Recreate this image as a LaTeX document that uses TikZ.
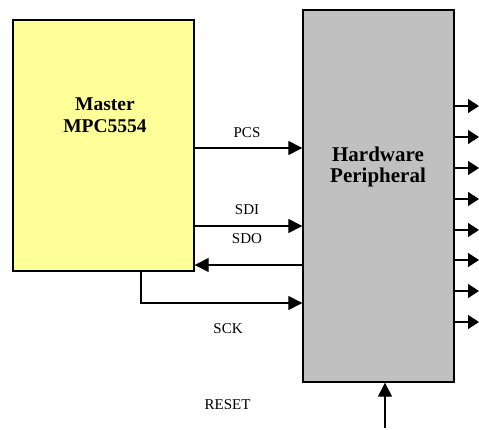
\documentclass[tikz,border=0pt]{standalone}
\usepackage{fontspec}
\setmainfont{Liberation Serif}
\usepackage{tikz}
\usetikzlibrary{
    positioning,
    arrows.meta,
    calc
}
\definecolor{MasterYellow}{RGB}{255,255,153}
\definecolor{PeriphGray}{RGB}{192,192,192}

\begin{document}
\begin{tikzpicture}[
                    x=1pt, y=-1pt,
                    every node/.style={inner sep=0pt},
                    blockbox/.style={draw=black, line width=1.4pt},
                    sig/.style={line width=1.3pt, -{Triangle[length=14pt,width=14pt]}},
                    outsig/.style={line width=1.3pt, -{Triangle[length=11pt,width=14pt]}},
                    siglabel/.style={font=\fontsize{15}{17}\selectfont},
                ]
                  \useasboundingbox (0,0) rectangle (479,430);

                  % ---- Blocks ----
                  \node[blockbox, fill=MasterYellow, minimum width=181pt, minimum height=251pt] (master) at (103.5,145.5) {};
                  \node[blockbox, fill=PeriphGray, minimum width=151pt, minimum height=372pt] (periph) at (378.5,196) {};
                  \node[font=\fontsize{19.5}{22}\selectfont\bfseries, align=center] (masterText) at (105,115) {Master\\MPC5554};
                  \node[font=\fontsize{21}{21}\selectfont\bfseries, align=center] (periphText) at (378,167) {Hardware\\Peripheral};

                  % ---- Serial lines ----
                  \draw[sig] (master.east |- 0,148) -- (periph.west |- 0,148);
                  \node[siglabel] (pcsLabel) at (247,133) {PCS};

                  \draw[sig] (master.east |- 0,226) -- (periph.west |- 0,226);
                  \node[siglabel] (sdiLabel) at (247,210) {SDI};

                  \draw[sig] (periph.west |- 0,265) -- (master.east |- 0,265);
                  \node[siglabel] (sdoLabel) at (247,239) {SDO};

                  % SCK leaves the bottom of the master
                  \coordinate (sckCorner) at (141,303);
                  \draw[sig] (master.south -| sckCorner) -- (sckCorner) -- (periph.west |- sckCorner);
                  \node[siglabel] (sckLabel) at (228,329) {SCK};

                  % RESET into the bottom of the peripheral
                  \coordinate (resetIn) at (385,428);
                  \draw[sig] (resetIn) -- (periph.south -| resetIn);
                  \node[siglabel] (resetLabel) at (227.5,405) {RESET};

                  % ---- Outputs ----
                  \foreach \y in {106,137,168,199,230,260,291,322}
                    \draw[outsig] (periph.east |- 0,\y) -- (479,\y);
                \end{tikzpicture}
\end{document}
